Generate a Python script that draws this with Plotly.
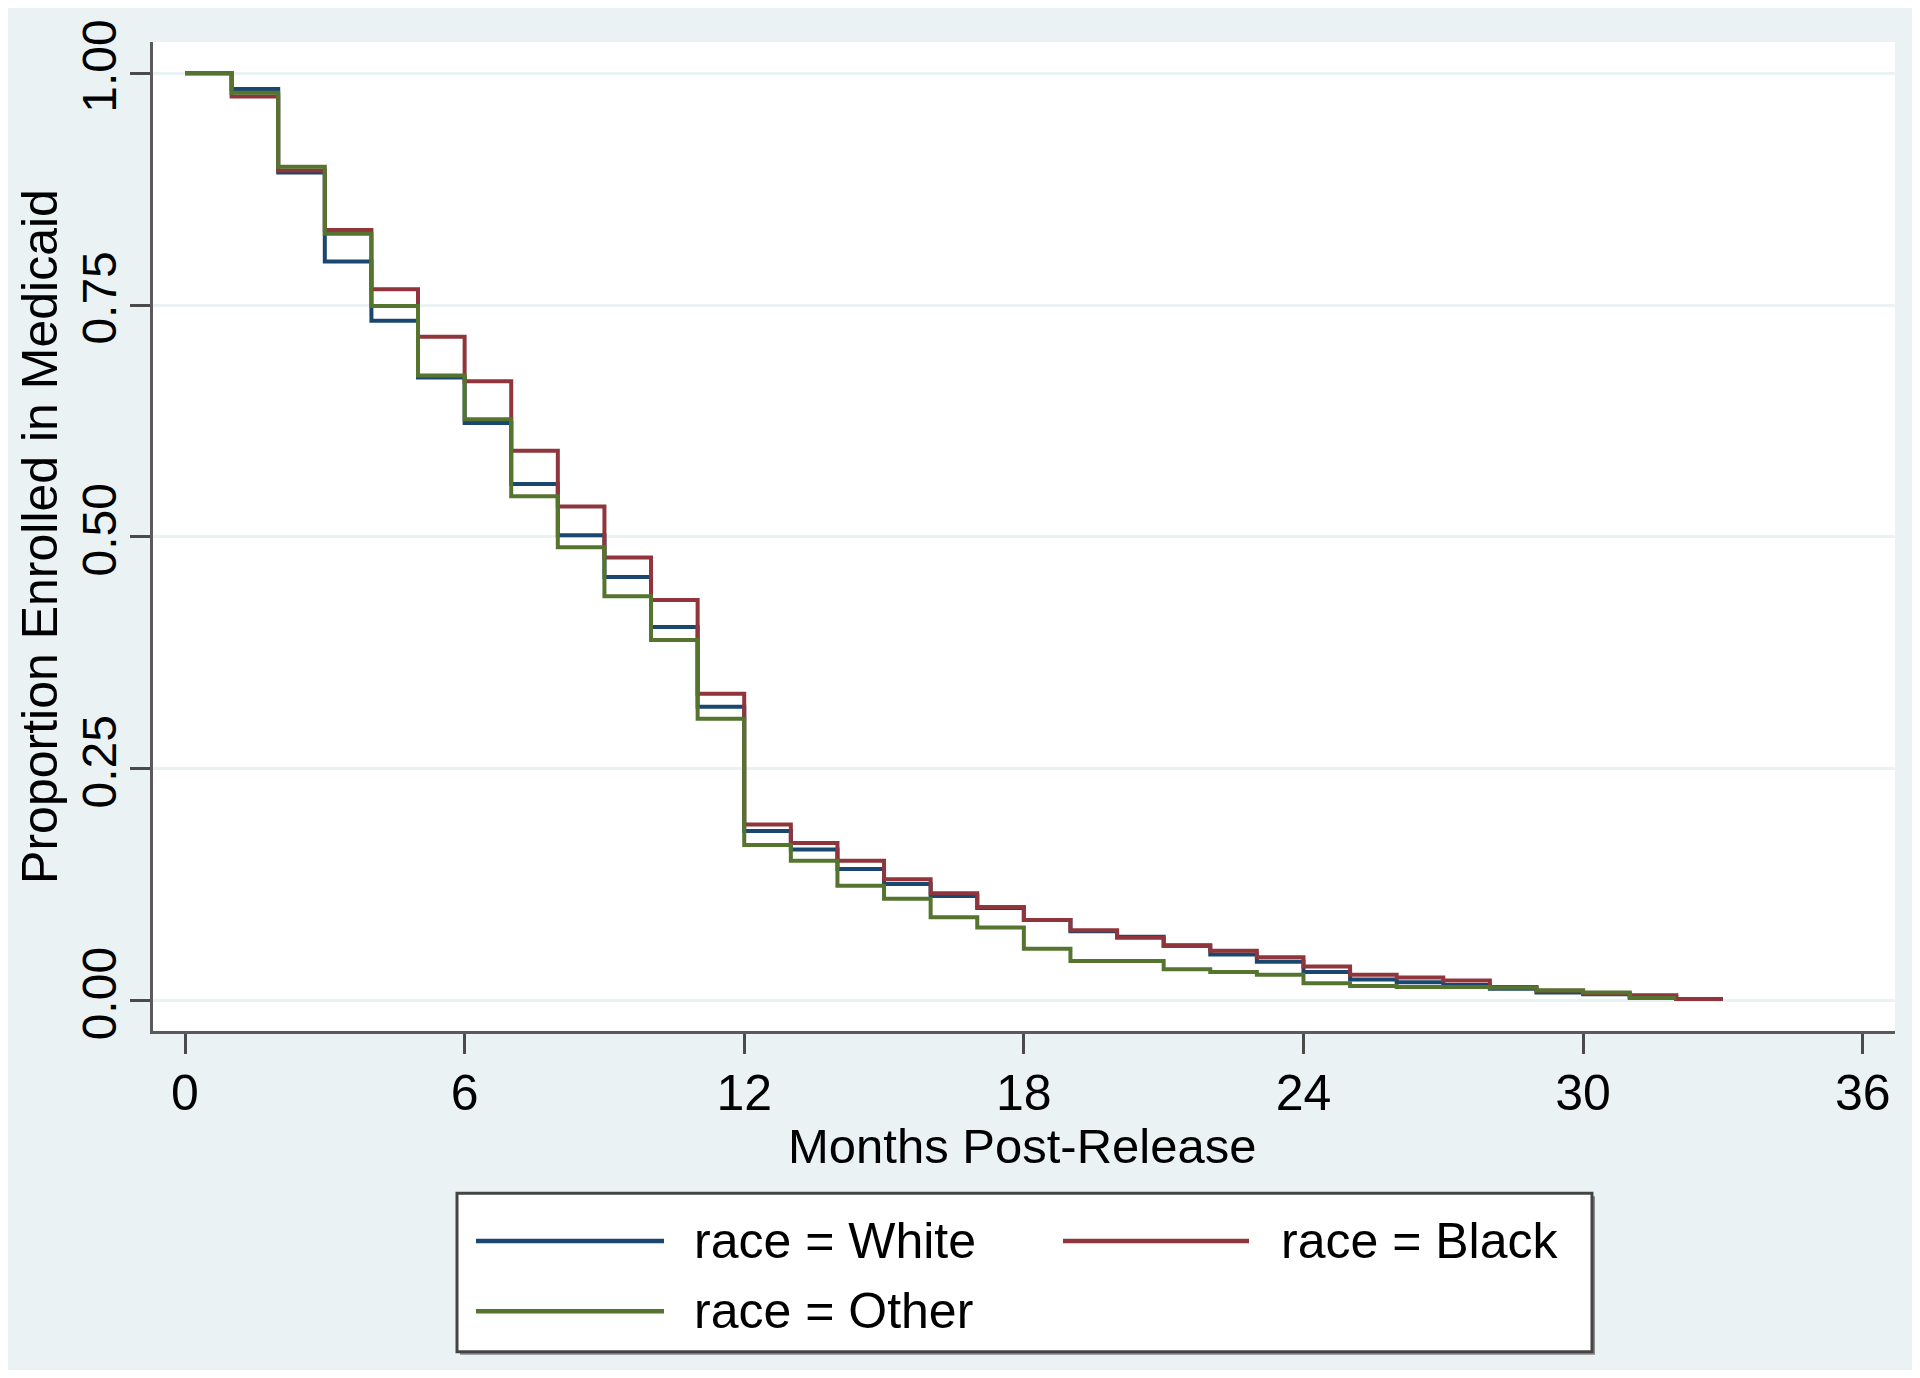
import plotly.graph_objects as go

# ---- data ----
months = list(range(0, 34))
series_names = ["race = White", "race = Black", "race = Other"]

white = [1.000, 0.983, 0.893, 0.797, 0.733, 0.672, 0.623, 0.557, 0.502, 0.457,
         0.403, 0.317, 0.183, 0.163, 0.142, 0.126, 0.113, 0.100, 0.087, 0.075,
         0.069, 0.060, 0.050, 0.042, 0.031, 0.023, 0.020, 0.017, 0.013, 0.009,
         0.007, 0.004, 0.002]
black = [1.000, 0.975, 0.895, 0.831, 0.767, 0.716, 0.668, 0.593, 0.533, 0.478,
         0.432, 0.331, 0.190, 0.170, 0.151, 0.131, 0.116, 0.101, 0.087, 0.076,
         0.068, 0.059, 0.054, 0.047, 0.037, 0.028, 0.025, 0.022, 0.015, 0.011,
         0.008, 0.006, 0.002]
other = [1.000, 0.979, 0.899, 0.827, 0.749, 0.674, 0.627, 0.544, 0.489, 0.436,
         0.389, 0.304, 0.168, 0.151, 0.124, 0.110, 0.090, 0.079, 0.056, 0.043,
         0.043, 0.034, 0.031, 0.028, 0.019, 0.016, 0.015, 0.015, 0.014, 0.011,
         0.009, 0.003]

x_ticks = [0, 6, 12, 18, 24, 30, 36]
y_ticks = [0, 0.25, 0.5, 0.75, 1.0]
x_title = "Months Post-Release"
y_title = "Proportion Enrolled in Medicaid"

colors = ["#1A476F", "#90353B", "#55752F"]
all_series = [white, black, other]

# figure sits inside the page's default 8px body margin (white frame)
OFF = 8
W, H = 1920 - 2 * OFF, 1378 - 2 * OFF
ML, MR, MT, MB = 145, 17, 24, H - 1023
PW, PH = W - ML - MR, H - MT - MB
FONT = "Liberation Sans, Arial, sans-serif"


def px(xp):
    # xp in page pixels
    return (xp - OFF - ML) / PW


def py(yp):
    return (H - MB - (yp - OFF)) / PH


fig = go.Figure()
for name, vals, col in zip(series_names, all_series, colors):
    n = len(vals)
    xs = months[: n + 1]
    ys = vals + [vals[-1]]
    fig.add_trace(go.Scatter(x=xs, y=ys, mode="lines", name=name,
                             line=dict(color=col, width=4, shape="hv"),
                             showlegend=False))

# x: 0 at fig px 177, 36 at fig px 1854.7
ppm = (1854.7 - 177) / 36.0
x0 = -(177 - ML) / ppm
x1 = x0 + PW / ppm
# y: 1.0 at fig px 55.5, 0 at fig px 992.5
ppu = (992.5 - 55.5)
y0 = -((H - MB) - 992.5) / ppu
y1 = y0 + PH / ppu

fig.update_xaxes(range=[x0, x1], tickvals=x_ticks, ticks="outside", ticklen=20,
                 tickwidth=2.5, tickcolor="#4a4a4a", showline=True,
                 linecolor="#5a5a5a", linewidth=3, showgrid=False,
                 zeroline=False, ticklabelstandoff=-4,
                 tickfont=dict(size=50, color="black"))
fig.update_yaxes(range=[y0, y1], tickvals=y_ticks, tickformat=".2f",
                 ticks="outside", ticklen=20, tickwidth=2.5,
                 tickcolor="#4a4a4a", showline=True, linecolor="#5a5a5a",
                 linewidth=3, showgrid=True, gridcolor="#EAF2F3", gridwidth=3,
                 zeroline=False, tickangle=-90, ticklabelstandoff=-5,
                 tickfont=dict(size=48, color="black"),
                 title=dict(text=y_title, font=dict(size=50, color="black"),
                            standoff=0))

shapes = []
annotations = []
# x-axis title placed under the axis (page pixel coordinates)
annotations.append(dict(xref="paper", yref="paper", x=px(1022), y=py(1147),
                        text=x_title, showarrow=False, xanchor="center",
                        yanchor="middle", font=dict(size=49, color="black")))
# legend box (page pixel coordinates)
shapes.append(dict(type="rect", xref="paper", yref="paper",
                   x0=px(460), x1=px(1595), y0=py(1358), y1=py(1198),
                   fillcolor="#8a8a8a", line=dict(width=0), layer="above"))
shapes.append(dict(type="rect", xref="paper", yref="paper",
                   x0=px(457), x1=px(1592), y0=py(1355), y1=py(1195),
                   fillcolor="white", line=dict(color="#444444", width=3),
                   layer="above"))
legend_pos = [(476, 664, 692, 1243), (1063, 1249, 1279, 1243), (476, 664, 692, 1314)]
for name, col, (lx0, lx1, tx, ly) in zip(series_names, colors, legend_pos):
    shapes.append(dict(type="line", xref="paper", yref="paper",
                       x0=px(lx0), x1=px(lx1), y0=py(ly), y1=py(ly),
                       line=dict(color=col, width=4.5), layer="above"))
    annotations.append(dict(xref="paper", yref="paper", x=px(tx), y=py(ly),
                            text=name, showarrow=False, xanchor="left",
                            yanchor="middle", font=dict(size=50, color="black")))

fig.update_layout(width=W, height=H, margin=dict(l=ML, r=MR, t=MT, b=MB),
                  paper_bgcolor="#EAF2F3", plot_bgcolor="white",
                  font=dict(family=FONT, size=50, color="black"),
                  showlegend=False, shapes=shapes, annotations=annotations)

fig.write_html("out.html")
